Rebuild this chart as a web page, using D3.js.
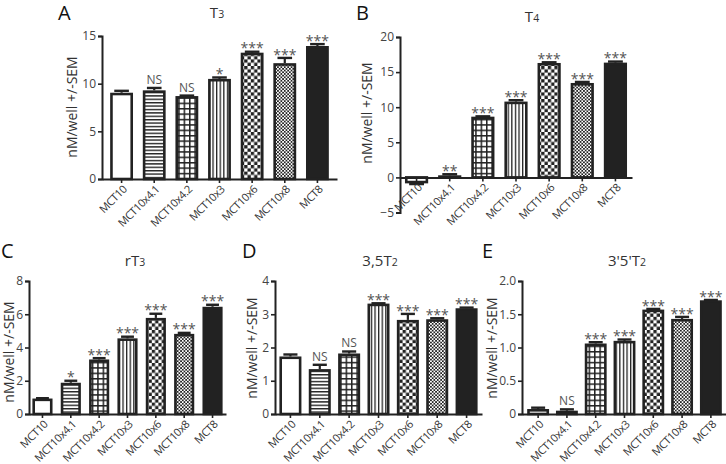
<!DOCTYPE html>
<html><head><meta charset="utf-8">
<script src="https://cdn.jsdelivr.net/npm/d3@7"></script>
<style>
html,body{margin:0;padding:0;background:#fff;}
svg{display:block;}
text{font-family:"Open Sans",sans-serif;}
</style></head>
<body>
<svg id="chart" width="726" height="464"></svg>
<script>
// ---------- DATA ----------
const categories = ["MCT10","MCT10x4.1","MCT10x4.2","MCT10x3","MCT10x6","MCT10x8","MCT8"];

const t3Values = [9.05, 9.3, 8.7, 10.5, 13.25, 12.15, 13.95];
const t3Sem    = [0.2, 0.25, 0.05, 0.15, 0.1, 0.55, 0.2];
const t3Sig    = ["", "NS", "NS", "*", "***", "***", "***"];
const t3Ticks  = [0, 5, 10, 15];

const t4Values = [-0.85, 0.3, 8.65, 10.8, 16.3, 13.45, 16.35];
const t4Sem    = [0.1, 0.15, 0.05, 0.2, 0.1, 0.15, 0.15];
const t4Sig    = ["", "**", "***", "***", "***", "***", "***"];
const t4Ticks  = [-5, 0, 5, 10, 15, 20];

const rt3Values = [0.93, 1.88, 3.28, 4.55, 5.78, 4.82, 6.45];
const rt3Sem    = [0.02, 0.12, 0.08, 0.1, 0.25, 0.06, 0.12];
const rt3Sig    = ["", "*", "***", "***", "***", "***", "***"];
const rt3Ticks  = [0, 2, 4, 6, 8];

const t35Values = [1.73, 1.35, 1.82, 3.32, 2.83, 2.85, 3.18];
const t35Sem    = [0.06, 0.13, 0.06, 0.01, 0.18, 0.03, 0.02];
const t35Sig    = ["", "NS", "NS", "***", "***", "***", "***"];
const t35Ticks  = [0, 1, 2, 3, 4];

const t335Values = [0.075, 0.05, 1.06, 1.10, 1.57, 1.43, 1.71];
const t335Sem    = [0.02, 0.02, 0.02, 0.02, 0.01, 0.03, 0.005];
const t335Sig    = ["", "NS", "***", "***", "***", "***", "***"];
const t335Ticks  = [0, 0.5, 1.0, 1.5, 2.0];
const t335TickLabels = ["0", "0.5", "1.0", "1.5", "2.0"];

const yLabel = "nM/well +/-SEM";

// ---------- DRAWING ----------
const svg = d3.select("#chart");
const ink = "#222";

// patterns
const defs = svg.append("defs");
function pat(id, w, h, draw){
  const p = defs.append("pattern").attr("id", id).attr("patternUnits","userSpaceOnUse")
    .attr("width", w).attr("height", h);
  p.append("rect").attr("width", w).attr("height", h).attr("fill", "#fff");
  draw(p);
}
pat("p-h", 6, 3.4, p => p.append("rect").attr("x",0).attr("y",0).attr("width",6).attr("height",1.4).attr("fill",ink));
pat("p-grid", 5.4, 5.4, p => {
  p.append("rect").attr("x",0).attr("y",0).attr("width",5.4).attr("height",1.5).attr("fill",ink);
  p.append("rect").attr("x",0).attr("y",0).attr("width",1.5).attr("height",5.4).attr("fill",ink);
});
pat("p-v", 3.6, 6, p => p.append("rect").attr("x",0).attr("y",0).attr("width",1.3).attr("height",6).attr("fill",ink));
pat("p-check", 6.6, 6.6, p => {
  p.append("rect").attr("x",0).attr("y",0).attr("width",3.3).attr("height",3.3).attr("fill",ink);
  p.append("rect").attr("x",3.3).attr("y",3.3).attr("width",3.3).attr("height",3.3).attr("fill",ink);
});
pat("p-fine", 3.4, 3.4, p => {
  p.append("rect").attr("x",0).attr("y",0).attr("width",1.7).attr("height",1.7).attr("fill",ink);
  p.append("rect").attr("x",1.7).attr("y",1.7).attr("width",1.7).attr("height",1.7).attr("fill",ink);
});
const fills = ["#fff", "url(#p-h)", "url(#p-grid)", "url(#p-v)", "url(#p-check)", "url(#p-fine)", ink];

function drawPanel(cfg){
  const {values, sem, sig, ticks, tickLabels, domain, x0, x1, yTop, yBot, padIn, padOut,
         letter, letterX, letterY, title, titleX, titleY, ylabX, ylabY} = cfg;
  const g = svg.append("g");
  const x = d3.scaleBand().domain(categories).range([x0, x1]).paddingInner(padIn).paddingOuter(padOut);
  const y = d3.scaleLinear().domain(domain).range([yBot, yTop]);
  const bw = x.bandwidth();
  const zeroY = y(0);

  // bars
  categories.forEach((c, i) => {
    const v = values[i];
    const top = Math.min(y(v), zeroY), h = Math.abs(y(v) - zeroY);
    const e = v >= 0 ? v + sem[i] : v - sem[i];
    const cx = x(c) + bw/2;
    g.append("line").attr("x1", cx).attr("x2", cx).attr("y1", y(v)).attr("y2", y(e))
      .attr("stroke", ink).attr("stroke-width", 2.2);
    g.append("line").attr("x1", cx - bw*0.32).attr("x2", cx + bw*0.32).attr("y1", y(e)).attr("y2", y(e))
      .attr("stroke", ink).attr("stroke-width", 2.4);
    g.append("rect").attr("x", x(c) + 1.3).attr("y", top + (v>=0?1.3:0)).attr("width", bw - 2.6)
      .attr("height", Math.max(0, h - 1.3))
      .attr("fill", fills[i]).attr("stroke", ink).attr("stroke-width", 2.6);
    if (sig[i]) {
      const ns = sig[i] === "NS";
      g.append("text").attr("x", cx).attr("y", y(e) - 4).attr("text-anchor", "middle")
        .attr("font-size", ns ? 12 : 14).attr("fill", "#555")
        .attr("dy", ns ? 0 : "0.4em")
        .text(sig[i]);
    }
  });

  // y axis
  const yAxis = d3.axisLeft(y).tickValues(ticks).tickSize(4).tickPadding(2)
    .tickFormat((d, i) => tickLabels ? tickLabels[i] : d3.format("")(d));
  const ya = g.append("g").attr("transform", `translate(${x0},0)`).call(yAxis);
  ya.select(".domain").attr("stroke", ink).attr("stroke-width", 2);
  ya.selectAll(".tick line").attr("stroke", ink).attr("stroke-width", 1.6);
  ya.selectAll(".tick text").attr("font-size", 12).attr("fill", "#444").attr("font-family", '"Open Sans",sans-serif');

  // x axis at zero
  const xAxis = d3.axisBottom(x).tickSize(4).tickSizeOuter(0).tickFormat("");
  const xa = g.append("g").attr("transform", `translate(0,${zeroY})`).call(xAxis);
  xa.select(".domain").attr("stroke", ink).attr("stroke-width", 2);
  xa.selectAll(".tick line").attr("stroke", ink).attr("stroke-width", 1.6);

  // x labels rotated, hanging from the zero line
  categories.forEach(c => {
    const cx = x(c) + bw/2;
    g.append("text").attr("transform", `translate(${cx + 6},${zeroY + 11}) rotate(-45)`)
      .attr("text-anchor", "end").attr("font-size", 11).attr("letter-spacing", -0.4)
      .attr("fill", "#333").text(c);
  });

  // y label
  g.append("text").attr("transform", `translate(${ylabX},${ylabY}) rotate(-90)`)
    .attr("text-anchor", "middle").attr("font-size", 14).attr("fill", "#333").text(yLabel);

  // title
  const t = g.append("text").attr("x", titleX).attr("y", titleY).attr("text-anchor", "middle")
    .attr("font-size", 15).attr("fill", "#333");
  title.forEach(part => {
    const ts = t.append("tspan").text(part[0]);
    if (part[1]) ts.attr("font-size", 10.5);
  });

  // letter
  svg.append("text").attr("x", letterX).attr("y", letterY).attr("font-size", 20)
    .attr("font-family", '"Liberation Sans",Arial,sans-serif').attr("fill", "#111").text(letter);
}

drawPanel({values: t3Values, sem: t3Sem, sig: t3Sig, ticks: t3Ticks, domain: [0, 15],
  x0: 102, x1: 337, yTop: 36, yBot: 179, padIn: 0.3, padOut: 0.25,
  letter: "A", letterX: 58, letterY: 20, title: [["T"],["3",1]], titleX: 217, titleY: 18,
  ylabX: 77, ylabY: 107});
drawPanel({values: t4Values, sem: t4Sem, sig: t4Sig, ticks: t4Ticks, domain: [-5, 20],
  x0: 400, x1: 632, yTop: 37, yBot: 212.5, padIn: 0.3, padOut: 0.15,
  letter: "B", letterX: 356, letterY: 20, title: [["T"],["4",1]], titleX: 532, titleY: 22,
  ylabX: 372, ylabY: 113});
drawPanel({values: rt3Values, sem: rt3Sem, sig: rt3Sig, ticks: rt3Ticks, domain: [0, 8],
  x0: 29, x1: 226, yTop: 281, yBot: 414, padIn: 0.29, padOut: 0.12,
  letter: "C", letterX: 1, letterY: 258, title: [["rT"],["3",1]], titleX: 135, titleY: 266,
  ylabX: 14, ylabY: 352});
drawPanel({values: t35Values, sem: t35Sem, sig: t35Sig, ticks: t35Ticks, domain: [0, 4],
  x0: 275, x1: 482, yTop: 281, yBot: 414, padIn: 0.25, padOut: 0.15,
  letter: "D", letterX: 242, letterY: 258, title: [["3,5T"],["2",1]], titleX: 380, titleY: 266,
  ylabX: 257, ylabY: 348});
drawPanel({values: t335Values, sem: t335Sem, sig: t335Sig, ticks: t335Ticks, tickLabels: t335TickLabels, domain: [0, 2],
  x0: 522, x1: 727, yTop: 281, yBot: 414, padIn: 0.24, padOut: 0.18,
  letter: "E", letterX: 482, letterY: 258, title: [["3'5'T"],["2",1]], titleX: 627, titleY: 266,
  ylabX: 497, ylabY: 348});
</script>
</body></html>
